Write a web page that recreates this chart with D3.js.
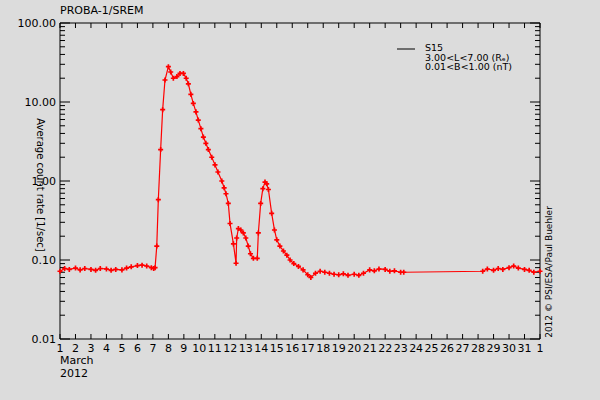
<!DOCTYPE html>
<html><head><meta charset="utf-8">
<script src="https://cdn.jsdelivr.net/npm/d3@7"></script>
<style>body{margin:0;background:#dcdcdc}text{font-family:"DejaVu Sans",sans-serif;font-size:11px;fill:#000}</style>
</head><body><svg id="c" width="600" height="400"></svg>
<script>
const days=[1,1.3,1.6,2,2.3,2.6,3,3.3,3.6,4,4.3,4.6,5,5.3,5.6,6,6.3,6.6,6.9,7.05,7.14,7.25,7.35,7.5,7.63,7.78,8.0,8.15,8.32,8.55,8.75,8.97,9.15,9.29,9.45,9.61,9.78,9.93,10.1,10.26,10.42,10.58,10.8,11.01,11.2,11.45,11.6,11.72,11.87,11.98,12.2,12.37,12.41,12.52,12.68,12.84,13.0,13.16,13.3,13.49,13.74,13.81,13.96,14.1,14.24,14.35,14.46,14.67,14.85,15.0,15.2,15.43,15.65,15.86,16.1,16.4,16.7,17.0,17.2,17.5,17.8,18.1,18.4,18.7,19.0,19.3,19.6,20,20.3,20.6,21,21.3,21.6,22,22.3,22.6,23,23.2,28.3,28.6,29,29.3,29.6,30,30.3,30.6,31,31.3,31.6,32];
const values=[0.072,0.078,0.076,0.079,0.075,0.078,0.076,0.074,0.078,0.077,0.074,0.076,0.075,0.079,0.082,0.085,0.086,0.084,0.08,0.078,0.08,0.15,0.58,2.5,8,19,28,24,20,21,23,23,20,17,12.5,9.6,7.5,5.9,4.6,3.6,3.0,2.5,2.0,1.6,1.3,1.0,0.82,0.69,0.52,0.29,0.16,0.091,0.19,0.25,0.24,0.22,0.19,0.15,0.12,0.105,0.105,0.22,0.52,0.8,0.97,0.92,0.78,0.39,0.24,0.18,0.15,0.13,0.115,0.10,0.09,0.083,0.075,0.065,0.06,0.068,0.072,0.07,0.068,0.066,0.065,0.067,0.064,0.066,0.064,0.068,0.075,0.073,0.077,0.076,0.072,0.073,0.07,0.07,0.072,0.077,0.074,0.078,0.076,0.08,0.084,0.079,0.076,0.074,0.07,0.072];
const yTicks=[100,10,1,0.1,0.01];
const xLabels=d3.range(1,32).map(String).concat(["1"]);
const svg=d3.select("#c");
const x=d3.scaleLinear().domain([1,32]).range([60,540]);
const y=d3.scaleLog().domain([0.01,100]).range([339,23]);
const g=svg.append("g");
[[x(1),y(0.01),x(32),y(0.01)],[x(1),y(100),x(32),y(100)],[x(1),y(0.01),x(1),y(100)],[x(32),y(0.01),x(32),y(100)]].forEach(l=>g.append("line").attr("x1",l[0]).attr("y1",l[1]).attr("x2",l[2]).attr("y2",l[3]).attr("stroke","#000"));
d3.range(1,33).forEach((d,i)=>{
 g.append("line").attr("x1",x(d)).attr("x2",x(d)).attr("y1",y(0.01)).attr("y2",y(0.01)-5).attr("stroke","#000");
 g.append("line").attr("x1",x(d)).attr("x2",x(d)).attr("y1",y(100)).attr("y2",y(100)+5).attr("stroke","#000");
 g.append("text").attr("x",x(d)).attr("y",352).attr("text-anchor","middle").text(xLabels[i]);
});
const minor=[];yTicks.forEach(t=>{if(t<100)for(let k=2;k<10;k++)minor.push(t*k);});
minor.forEach(v=>{[[x(1),5],[x(32),-5]].forEach(([xx,dl])=>g.append("line").attr("x1",xx).attr("x2",xx+dl).attr("y1",y(v)).attr("y2",y(v)).attr("stroke","#000"));});
yTicks.forEach(t=>{
 [[x(1),10],[x(32),-10]].forEach(([xx,dl])=>g.append("line").attr("x1",xx).attr("x2",xx+dl).attr("y1",y(t)).attr("y2",y(t)).attr("stroke","#000"));
 g.append("text").attr("x",56).attr("y",y(t)+4).attr("text-anchor","end").text(t.toFixed(2));
});
g.append("text").attr("x",60).attr("y",364).text("March");
g.append("text").attr("x",60).attr("y",377).text("2012");
g.append("text").attr("x",60).attr("y",14).text("PROBA-1/SREM");
g.append("text").attr("transform","translate(37,185) rotate(90)").attr("text-anchor","middle").style("font-size","10px").text("Average count rate [1/sec]");
g.append("text").attr("transform","translate(552,272) rotate(-90)").attr("text-anchor","middle").style("font-size","9px").text("2012 © PSI/ESA/Paul Buehler");
const pts=days.map((d,i)=>[d,values[i]]);
svg.append("path").datum(pts).attr("fill","none").attr("stroke","#f00").attr("stroke-width",1.2)
 .attr("d",d3.line().x(d=>x(d[0])).y(d=>y(d[1])));
const sym=d3.symbol().type(d3.symbolCross).size(14);
svg.selectAll(".m").data(pts.filter(p=>p[0]<=23.2||p[0]>=28.3)).join("path").attr("fill","#f00")
 .attr("transform",d=>`translate(${x(d[0])},${y(d[1])})`).attr("d",sym);
g.append("line").attr("x1",397).attr("x2",415).attr("y1",49).attr("y2",49).attr("stroke","#000");
["S15","3.00<L<7.00 (Rₑ)","0.01<B<1.00 (nT)"].forEach((t,i)=>g.append("text").attr("x",425).attr("y",51+i*9.5).style("font-size","9.5px").text(t));
</script></body></html>
